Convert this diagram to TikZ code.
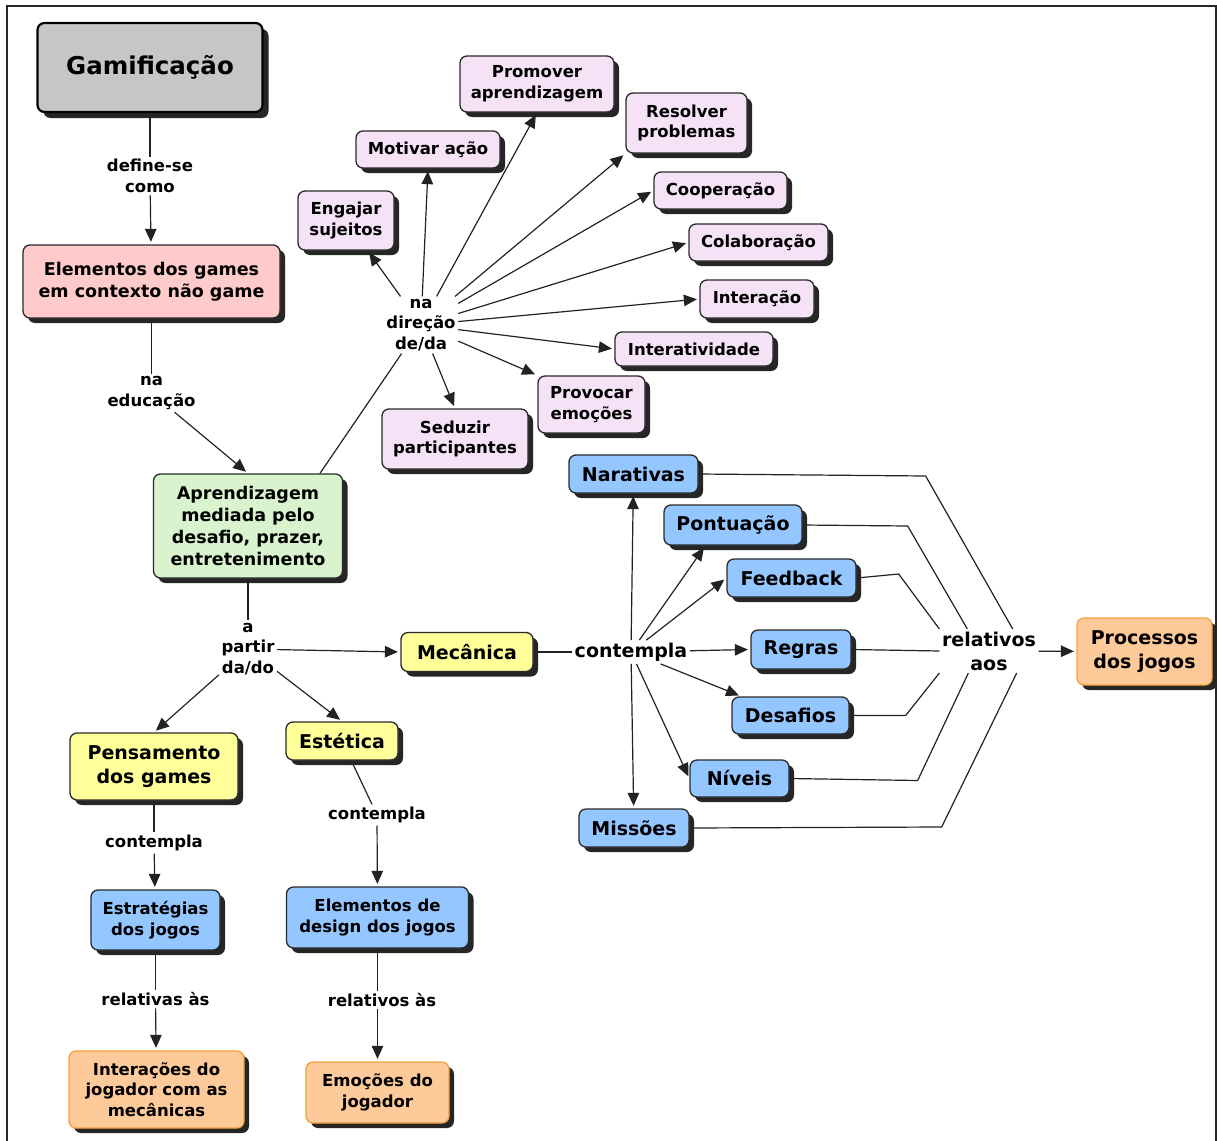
\documentclass[tikz,border=0pt]{standalone}
\usepackage{fontspec}
\setmainfont{DejaVu Sans}
\usetikzlibrary{arrows.meta,shadows}

\definecolor{cgray}{HTML}{C6C6C6}
\definecolor{cpink}{HTML}{FFCACA}
\definecolor{cgreen}{HTML}{D8F3CD}
\definecolor{clav}{HTML}{F5E2F6}
\definecolor{cblue}{HTML}{94C6FF}
\definecolor{cyellow}{HTML}{FFFF99}
\definecolor{corange}{HTML}{FFCA99}
\definecolor{corangeedge}{HTML}{F4A23A}
\definecolor{cedge}{HTML}{2A2A2A}
\definecolor{cline}{HTML}{222222}

\tikzset{
  box/.style={rectangle, rounded corners=7pt, draw=cedge, line width=1.3pt,
    align=center, inner sep=0pt},
  shad/.style={drop shadow={shadow xshift=5pt, shadow yshift=-5pt,
    fill=black!85, opacity=1}},
  fs/.style={font=\bfseries\fontsize{16.5}{20.5}\selectfont},
  fm/.style={font=\bfseries\fontsize{17.5}{21.7}\selectfont},
  fl/.style={font=\bfseries\fontsize{19}{24}\selectfont},
  pinkbox/.style={box, shad, fill=clav, fs},
  bluebox/.style={box, shad, fill=cblue},
  yellowbox/.style={box, shad, fill=cyellow, fl},
  orangebox/.style={box, shad, fill=corange, draw=corangeedge},
  linklabel/.style={align=center, inner sep=2.5pt},
  ln/.style={draw=cline, line width=1.2pt},
  arr/.style={draw=cline, line width=1.2pt,
    -{Triangle[length=13pt,width=11.5pt]}, shorten >=2.5pt},
  frame/.style={draw=black!85, line width=2pt}
}

\begin{document}
\begin{tikzpicture}[x=1pt,y=-1pt]
\useasboundingbox (0,0) rectangle (1217,1140);

% outer frame
\draw[frame] (7,1150) -- (7,6) -- (1216,6) -- (1216,1150);

% ---------- main chain on the left ----------
\node[box, fill=cgray, draw=black, line width=2.2pt,
  drop shadow={shadow xshift=6pt, shadow yshift=-6pt, fill=black!85, opacity=1},
  minimum width=225pt, minimum height=89pt,
  font=\bfseries\fontsize{24.5}{29}\selectfont] (gam) at (150,67.5) {Gamificação};

\node[linklabel, fs] (defc) at (150,176) {define-se\\como};

\node[box, shad, fill=cpink, fm, minimum width=257pt, minimum height=73pt]
  (elem) at (151.5,281.5) {Elementos dos games\\em contexto não game};

\node[linklabel, fs] (naed) at (151.5,393) {na\\educação};

\node[box, shad, fill=cgreen, fm, minimum width=189pt, minimum height=104pt]
  (apr) at (248,526) {Aprendizagem\\mediada pelo\\desafio, prazer,\\entretenimento};

% ---------- goals ----------
\node[linklabel, fs] (dir) at (421,325) {na\\direção\\de/da};

\node[pinkbox, minimum width=154pt, minimum height=56pt] (prom) at (537,84) {Promover\\aprendizagem};
\node[pinkbox, minimum width=121pt, minimum height=60pt] (res) at (686.5,123) {Resolver\\problemas};
\node[pinkbox, minimum width=144pt, minimum height=37pt] (mot) at (428,149.5) {Motivar ação};
\node[pinkbox, minimum width=96pt, minimum height=59pt] (eng) at (346,220.5) {Engajar\\sujeitos};
\node[pinkbox, minimum width=133pt, minimum height=37pt] (coop) at (720.5,190.5) {Cooperação};
\node[pinkbox, minimum width=139pt, minimum height=37pt] (colab) at (758.5,242.5) {Colaboração};
\node[pinkbox, minimum width=114pt, minimum height=38pt] (inter) at (757,299) {Interação};
\node[pinkbox, minimum width=158pt, minimum height=34pt] (interat) at (694,349) {Interatividade};
\node[pinkbox, minimum width=107pt, minimum height=57pt] (prov) at (591.5,404.5) {Provocar\\emoções};
\node[pinkbox, minimum width=146pt, minimum height=60pt] (sed) at (455,439) {Seduzir\\participantes};

% ---------- mechanics, aesthetics, thinking ----------
\node[linklabel, fs] (partir) at (248,649) {a\\partir\\da/do};

\node[yellowbox, minimum width=132pt, minimum height=39pt] (mec) at (467,652) {Mecânica};
\node[linklabel, fl] (cont) at (631,652) {contempla};

\node[bluebox, fl, minimum width=129pt, minimum height=38pt] (nar) at (633.5,474) {Narativas};
\node[bluebox, fl, minimum width=138pt, minimum height=40pt] (pon) at (733,525) {Pontuação};
\node[bluebox, fl, minimum width=129pt, minimum height=38pt] (feed) at (791.5,578) {Feedback};
\node[bluebox, fl, minimum width=100pt, minimum height=39pt] (reg) at (801,649.5) {Regras};
\node[bluebox, fl, minimum width=117pt, minimum height=37pt] (des) at (790.5,715.5) {Desafios};
\node[bluebox, fl, minimum width=99pt, minimum height=37pt] (niv) at (739.5,778.5) {Níveis};
\node[bluebox, fl, minimum width=110pt, minimum height=38pt] (mis) at (634,828) {Missões};

\node[linklabel, fl] (rel) at (989,651) {relativos\\aos};
\node[orangebox, fl, minimum width=135pt, minimum height=67pt] (proc) at (1144.5,651.5) {Processos\\dos jogos};

\node[yellowbox, minimum width=168pt, minimum height=67pt] (pens) at (154,766.5) {Pensamento\\dos games};
\node[yellowbox, minimum width=112pt, minimum height=38pt] (est) at (342,741) {Estética};

\node[linklabel, fs] (cont2) at (154,843) {contempla};
\node[linklabel, fs] (cont3) at (377,815) {contempla};

\node[bluebox, fs, minimum width=129pt, minimum height=60pt] (estr) at (155.5,920) {Estratégias\\dos jogos};
\node[bluebox, fs, minimum width=182pt, minimum height=61pt] (eldes) at (377.5,917.5) {Elementos de\\design dos jogos};

\node[linklabel, fs] (relas) at (155.5,999) {relativas às};
\node[linklabel, fs] (relos) at (382,1000) {relativos às};

\node[orangebox, fs, minimum width=175pt, minimum height=77pt] (intj) at (156.5,1089.5) {Interações do\\jogador com as\\mecânicas};
\node[orangebox, fs, minimum width=143pt, minimum height=61pt] (emo) at (377.5,1092.5) {Emoções do\\jogador};

% ---------- connectors ----------
\draw[ln] (gam) -- (defc);
\draw[arr] (defc) -- (elem);
\draw[ln] (elem) -- (naed);
\draw[arr] (naed) -- (apr.north);

\draw[ln] ([xshift=72pt]apr.north) -- (dir);
\draw[arr] (dir) -- (eng);
\draw[arr] (dir) -- (mot.south);
\draw[arr] (dir) -- (prom.south);
\draw[arr] (dir) -- (res.south west);
\draw[arr] (dir) -- (coop.west);
\draw[arr] (dir) -- (colab.west);
\draw[arr] (dir) -- (inter.west);
\draw[arr] (dir) -- (interat.west);
\draw[arr] (dir) -- (prov.north west);
\draw[arr] (dir) -- (sed.north);

\draw[ln] (apr) -- (partir);
\draw[arr] (partir) -- (mec.west);
\draw[arr] (partir) -- (pens.north);
\draw[arr] (partir) -- (est.north);

\draw[ln] (mec) -- (cont);
\draw[arr] (cont) -- (nar);
\draw[arr] (cont) -- ([xshift=42pt]pon.south west);
\draw[arr] (cont) -- (feed.west);
\draw[arr] (cont) -- (reg.west);
\draw[arr] (cont) -- ([xshift=10pt]des.north west);
\draw[arr] (cont) -- (niv.west);
\draw[arr] (cont) -- (mis);

\draw[ln] (nar.east) -- ++(227,2) -- ([xshift=-26pt]rel.north east);
\draw[ln] (pon.east) -- ++(105,1) -- ([xshift=28pt]rel.north west);
\draw[ln] (feed.east) -- ++(42,-4) -- (rel.north west);
\draw[ln] (reg.east) -- (rel.west);
\draw[ln] (des.east) -- ++(56,0) -- (rel.south west);
\draw[ln] (niv.east) -- ++(128,2) -- ([xshift=29pt]rel.south west);
\draw[ln] (mis.east) -- ++(252,-1) -- ([xshift=-22pt]rel.south east);
\draw[arr] (rel) -- (proc);

\draw[ln] (pens) -- (cont2);
\draw[arr] (cont2) -- (estr);
\draw[ln] (est) -- (cont3);
\draw[arr] (cont3) -- (eldes);

\draw[ln] (estr) -- (relas);
\draw[arr] (relas) -- (intj);
\draw[ln] (eldes.south) -- (eldes.south |- relos.north);
\draw[arr] (eldes.south |- relos.south) -- (emo);
\end{tikzpicture}
\end{document}
